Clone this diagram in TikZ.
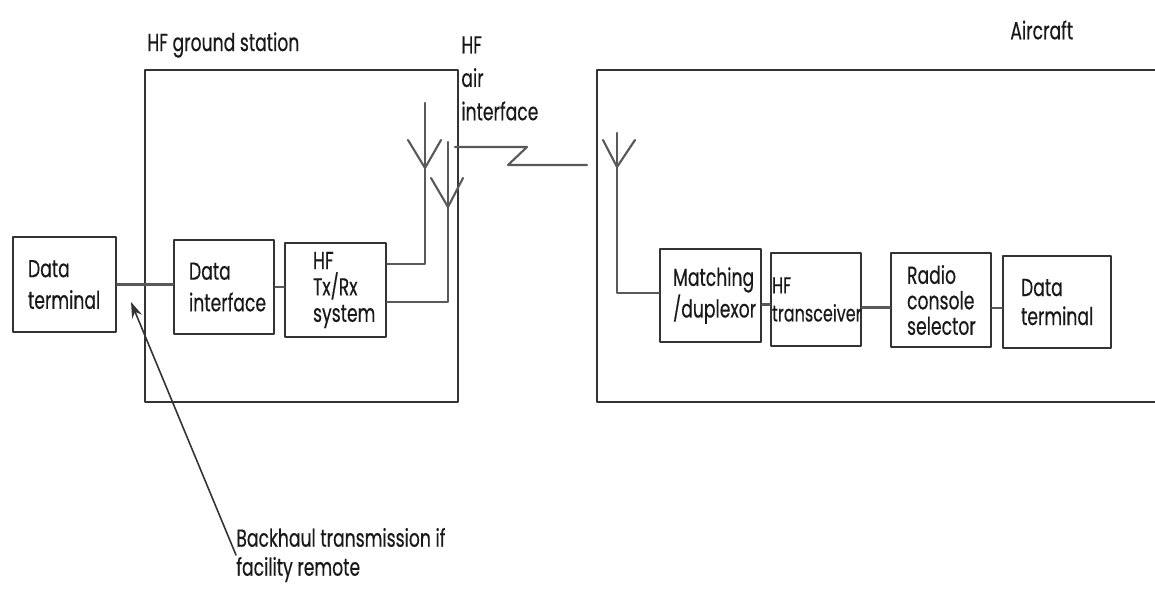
\documentclass[tikz,border=0pt]{standalone}
\usepackage{fontspec}
\setmainfont{Poppins}[FakeStretch=0.7, FakeBold=0.4]
\usetikzlibrary{arrows.meta,calc}

\begin{document}
\begin{tikzpicture}[
    x=0.02cm, y=-0.02cm,
    line cap=round,
    line join=round,
    font=\fontsize{14}{16.5}\selectfont,
    text=black!90,
    blk/.style 2 args={draw=black!80, line width=1.2pt, anchor=north west,
        text width=#1, inner xsep=#2, inner ysep=0pt, align=left},
    frame/.style={draw=black!80, line width=1.2pt},
    wire/.style={draw=black!65, line width=1.2pt},
    lbl/.style={inner sep=0pt, align=left}
]
\useasboundingbox (0,0) rectangle (1155,588);

% ground station and aircraft
\draw[frame] (145,70) rectangle (458,402);
\draw[frame] (1155,70) -- (597,70) -- (597,402) -- (1155,402);

\node[lbl, anchor=west] (gslbl) at (147,45) {HF ground station};
\node[lbl, anchor=west] (aclbl) at (1010,30) {Aircraft};
\node[lbl, anchor=north west, font=\fontsize{14}{19}\selectfont] (airlbl) at (461,36) {HF\\air\\interface};

% blocks on the ground
\node[blk={1.46cm}{0.3cm}, minimum height=1.9cm, font=\fontsize{14}{18}\selectfont] (dtg) at (12,236) {Data\\terminal};
\node[blk={1.4cm}{0.3cm}, minimum height=1.88cm, font=\fontsize{14}{18}\selectfont] (difc) at (173,239) {Data\\interface};
\node[blk={0.9cm}{0.56cm}, minimum height=1.88cm, font=\fontsize{14}{15}\selectfont] (txrx) at (284,242) {HF\\Tx/Rx\\system};

% blocks in the aircraft
\node[blk={1.5cm}{0.26cm}, minimum height=1.86cm] (mtch) at (659,248) {Matching\\/duplexor};
\node[blk={1.76cm}{0.02cm}, minimum height=1.86cm, font=\fontsize{13}{16}\selectfont] (hftr) at (770,252) {HF\\transceiver};
\node[blk={1.36cm}{0.32cm}, minimum height=1.88cm, font=\fontsize{14}{14.5}\selectfont] (rcs) at (890,252) {Radio\\console\\selector};
\node[blk={1.44cm}{0.36cm}, minimum height=1.84cm] (dta) at (1002,255) {Data\\terminal};

\draw[wire] (dtg.east) -- (dtg.east -| difc.west);
\draw[wire] (difc.east) -- (difc.east -| txrx.west);
\draw[wire] ($(mtch.east)+(0,9)$) -- ($(mtch.east -| hftr.west)+(0,9)$);
\draw[wire] ($(hftr.east)+(0,8)$) -- ($(hftr.east -| rcs.west)+(0,8)$);
\draw[wire] ($(rcs.east)+(0,8)$) -- ($(rcs.east -| dta.west)+(0,8)$);

% ground antennas
\coordinate (a1top) at (425,103);
\coordinate (a1tip) at (425,168);
\coordinate (a1foot) at (425,264);
\draw[wire] (a1top) -- (a1foot) -- (txrx.east |- a1foot);
\draw[wire] (408,140) -- (a1tip) -- (441,140);

\coordinate (a2top) at (448,142);
\coordinate (a2tip) at (448,207);
\coordinate (a2foot) at (448,302);
\draw[wire] (a2top) -- (a2foot) -- (txrx.east |- a2foot);
\draw[wire] (431,178) -- (a2tip) -- (463,178);

% air interface
\coordinate (z1) at (455,147);
\coordinate (z2) at (527,147);
\coordinate (z3) at (508,165);
\coordinate (z4) at (587,165);
\draw[wire] (z1) -- (z2) -- (z3) -- (z4);

% aircraft antenna
\coordinate (a3top) at (617,133);
\coordinate (a3tip) at (617,167);
\coordinate (a3foot) at (617,293);
\draw[wire] (a3top) -- (a3foot) -- (a3foot -| mtch.west);
\draw[wire] (603,140) -- (a3tip) -- (635,140);

% backhaul
\node[lbl, anchor=west] (bh) at (236,555) {Backhaul transmission if\\facility remote};
\coordinate (bhtip) at (131,302);
\draw[black!80, line width=0.9pt, -{Stealth[length=9pt,width=6pt]}] (bh.west) -- (bhtip);
\end{tikzpicture}
\end{document}
